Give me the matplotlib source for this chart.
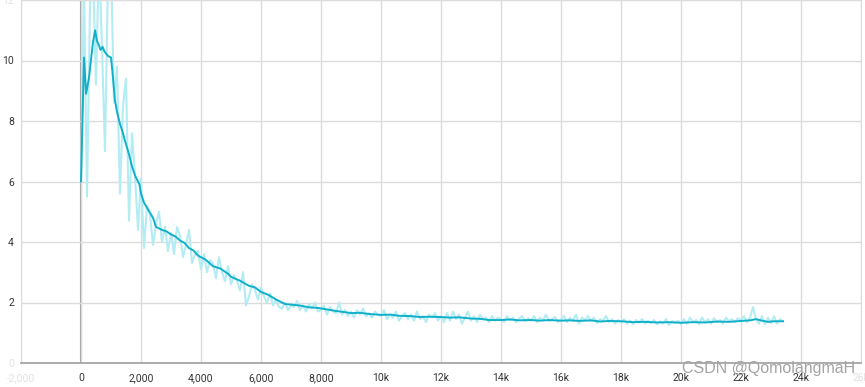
import numpy as np
import matplotlib.pyplot as plt

# raw loss, logged every 100 steps
raw_steps = np.arange(0, 23500, 100)
raw_loss = [
    6.0, 12.5, 5.5, 11.8, 13.0, 9.2, 13.5, 10.4, 7.0, 12.8,
    13.2, 8.6, 9.8, 5.6, 8.5, 9.4, 4.7, 7.6, 6.2, 4.4,
    6.1, 3.8, 5.2, 4.9, 3.9, 4.6, 5.0, 4.0, 4.5, 3.7,
    4.3, 3.6, 4.5, 4.2, 3.5, 3.9, 4.4, 3.3, 3.6, 3.7,
    3.1, 3.6, 3.0, 3.4, 3.3, 2.8, 3.5, 3.0, 2.7, 3.2,
    2.6, 2.9, 2.7, 2.4, 3.0, 1.9, 2.2, 2.6, 2.4, 2.1,
    2.5, 2.2, 2.0, 2.3, 1.9, 2.1, 1.85, 1.8, 2.0, 1.75,
    1.9, 1.85, 2.05, 1.75, 1.9, 1.7, 1.95, 1.8, 2.0, 1.7,
    1.75, 1.9, 1.6, 1.85, 1.7, 1.65, 2.0, 1.6, 1.75, 1.55,
    1.7, 1.5, 1.75, 1.6, 1.8, 1.55, 1.65, 1.5, 1.7, 1.6,
    1.55, 1.75, 1.45, 1.6, 1.5, 1.7, 1.4, 1.55, 1.65, 1.45,
    1.6, 1.4, 1.7, 1.45, 1.55, 1.35, 1.6, 1.5, 1.65, 1.4,
    1.55, 1.35, 1.65, 1.4, 1.7, 1.45, 1.6, 1.3, 1.5, 1.7,
    1.4, 1.55, 1.35, 1.6, 1.45, 1.5, 1.35, 1.55, 1.4, 1.5,
    1.45, 1.35, 1.55, 1.4, 1.5, 1.35, 1.45, 1.55, 1.38, 1.48,
    1.4, 1.55, 1.35, 1.5, 1.42, 1.6, 1.38, 1.45, 1.52, 1.35,
    1.45, 1.55, 1.35, 1.5, 1.4, 1.6, 1.3, 1.5, 1.42, 1.55,
    1.38, 1.5, 1.32, 1.45, 1.4, 1.55, 1.35, 1.45, 1.3, 1.42,
    1.35, 1.45, 1.3, 1.4, 1.28, 1.42, 1.35, 1.45, 1.3, 1.4,
    1.32, 1.42, 1.28, 1.38, 1.3, 1.45, 1.25, 1.38, 1.32, 1.4,
    1.28, 1.45, 1.3, 1.5, 1.35, 1.42, 1.28, 1.5, 1.35, 1.45,
    1.3, 1.48, 1.35, 1.42, 1.3, 1.5, 1.38, 1.45, 1.35, 1.48,
    1.4, 1.55, 1.35, 1.5, 1.85, 1.45, 1.3, 1.55, 1.28, 1.5,
    1.32, 1.55, 1.3, 1.45, 1.38,
]

# smoothed curve as shown in the board
smooth_steps = [
    0, 100, 170, 270, 330, 400, 470, 530, 600, 650, 720, 780, 900, 1000,
    1050, 1130, 1200, 1300, 1400, 1450, 1600, 1700, 1800, 1950, 2000, 2100,
    2400, 2500, 2700, 2850, 3000, 3150, 3300, 3450, 3600, 3750, 3900, 4150,
    4400, 4650, 4900, 5000, 5300, 5600, 5800, 6000, 6250, 6500, 6800,
    7000, 7300, 7600, 7900, 8200, 8500, 8800, 9000, 9300, 9600, 10000,
    10300, 10600, 11000, 11300, 11600, 12000, 12300, 12600, 13000, 13300,
    13600, 14000, 14300, 14600, 15000, 15300, 15600, 16000, 16300, 16600,
    17000, 17300, 17600, 18000, 18400, 18800, 19200, 19600, 20000, 20400,
    20800, 21200, 21600, 22000, 22300, 22500, 22700, 22900, 23100, 23400,
]
smooth_loss = [
    6.0, 10.1, 8.9, 9.45, 10.0, 10.6, 11.0, 10.65, 10.5, 10.35, 10.45, 10.3, 10.15, 10.1,
    9.6, 8.7, 8.3, 7.9, 7.6, 7.4, 6.9, 6.5, 6.2, 5.9, 5.6, 5.3,
    4.8, 4.5, 4.4, 4.35, 4.25, 4.18, 4.05, 3.97, 3.8, 3.72, 3.55, 3.42,
    3.2, 3.12, 2.95, 2.85, 2.72, 2.55, 2.5, 2.35, 2.25, 2.1, 1.95,
    1.93, 1.9, 1.84, 1.82, 1.77, 1.72, 1.68, 1.65, 1.66, 1.62, 1.59,
    1.60, 1.56, 1.55, 1.52, 1.53, 1.52, 1.50, 1.51, 1.47, 1.46,
    1.42, 1.42, 1.44, 1.41, 1.42, 1.40, 1.42, 1.40, 1.41, 1.39,
    1.41, 1.37, 1.39, 1.38, 1.35, 1.36, 1.34, 1.35, 1.33, 1.35,
    1.34, 1.37, 1.36, 1.39, 1.41, 1.45, 1.40, 1.36, 1.38, 1.38,
]

x_ticks = list(range(-2000, 26001, 2000))
x_tick_labels = ["-2,000", "0", "2,000", "4,000", "6,000", "8,000", "10k",
                 "12k", "14k", "16k", "18k", "20k", "22k", "24k", "26k"]
y_ticks = [0, 2, 4, 6, 8, 10, 12]

plt.rcParams['font.family'] = ['Roboto', 'DejaVu Sans']

fig = plt.figure(figsize=(8.65, 3.87), dpi=100)
ax = fig.add_axes([21 / 865, 24 / 387, 840 / 865, 363 / 387])

ax.plot(raw_steps, raw_loss, color='#b4ecf4', lw=1.5, zorder=2)
ax.plot(smooth_steps, smooth_loss, color='#12afc8', lw=1.4, zorder=3)

ax.set_xlim(-2000, 26000)
ax.set_ylim(0, 12)
ax.set_xticks(x_ticks)
ax.set_xticklabels(x_tick_labels)
ax.set_yticks(y_ticks)
ax.set_yticklabels([str(v) for v in y_ticks])

ax.grid(True, color='#dcdcdc', lw=1.0, zorder=0)
ax.axvline(0, color='#9e9e9e', lw=1.5, zorder=1)
ax.tick_params(length=0, labelsize=7.5, labelcolor='#333333')
ax.tick_params(axis='x', pad=7)
ax.tick_params(axis='y', pad=5)

for name in ['top', 'right', 'left']:
    ax.spines[name].set_color('#dcdcdc')
ax.spines['bottom'].set_color('#9e9e9e')
ax.spines['bottom'].set_linewidth(1.2)

# edge labels are faded out in the board
for lbl in (ax.get_xticklabels()[0], ax.get_xticklabels()[-1],
            ax.get_yticklabels()[0], ax.get_yticklabels()[-1]):
    lbl.set_color('#e2e2e2')

fig.text(682 / 865, 1 - 368 / 387, "CSDN @QomolangmaH", fontsize=11.5,
         color='#a4a4a4', ha='left', va='center',
         family=['Liberation Sans', 'DejaVu Sans'])

fig.savefig("out.png", dpi=100)
